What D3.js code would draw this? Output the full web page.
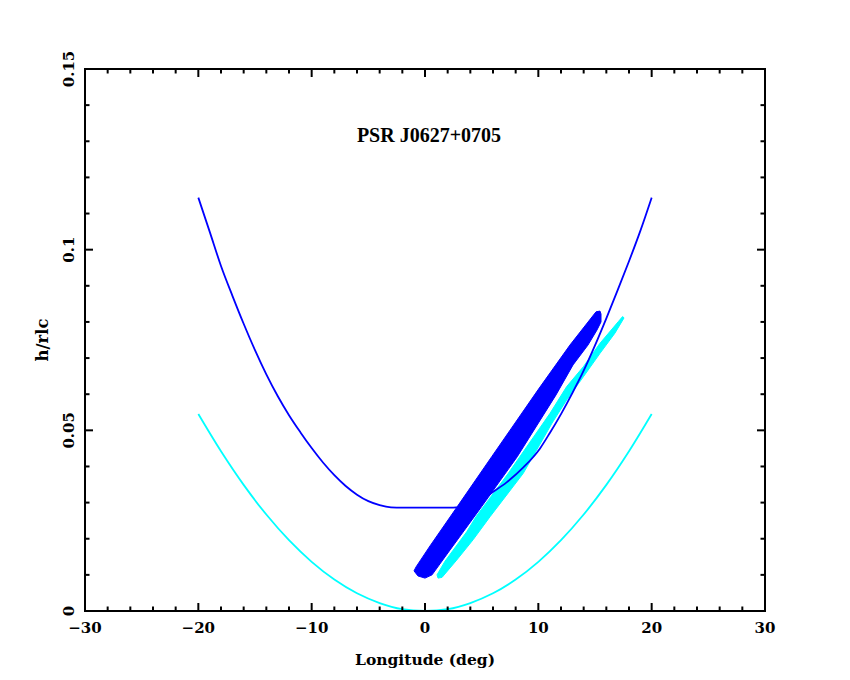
<!DOCTYPE html>
<html>
<head>
<meta charset="utf-8">
<script src="https://cdn.jsdelivr.net/npm/d3@7/dist/d3.min.js"></script>
<style>
  html, body { margin: 0; padding: 0; background: #ffffff; }
  svg { display: block; }
  text { font-family: "DejaVu Serif", serif; font-weight: bold; fill: #000; }
</style>
</head>
<body>
<svg id="chart" width="850" height="680"></svg>
<script>
// ---------------- data ----------------
const title = "PSR J0627+0705";
const xLabel = "Longitude (deg)";
const yLabel = "h/rlc";

const xDomain = [-30, 30];
const yDomain = [0, 0.15];
const xMajorTicks = [-30, -20, -10, 0, 10, 20, 30];
const xTickLabels = ["\u221230", "\u221220", "\u221210", "0", "10", "20", "30"];
const yMajorTicks = [0, 0.05, 0.1, 0.15];
const yTickLabels = ["0", "0.05", "0.1", "0.15"];
const xMinorStep = 2;
const yMinorStep = 0.01;

// cyan curve (lower emission height curve)
const cyanCurveX = [-20, -18, -16, -14, -12, -10, -8, -6, -4, -2, 0, 2, 4, 6, 8, 10, 12, 14, 16, 18, 20];
const cyanCurveY = [0.0545, 0.0442, 0.0349, 0.0267, 0.0196, 0.0136, 0.0087, 0.0049, 0.0022, 0.0005, 0.0,
                    0.0005, 0.0022, 0.0049, 0.0087, 0.0136, 0.0196, 0.0267, 0.0349, 0.0442, 0.0545];

// blue curve (upper curve with flat floor)
const blueCurveX = [-20, -19, -18, -17, -16, -15, -14, -13, -12, -11, -10, -9, -8, -7, -6, -5, -4, -3, -2,
                    0, 2.5, 4, 5.15, 5.75, 7.2, 8.7, 10.15, 11, 12, 13, 14, 15, 16, 17, 18, 19, 20];
const blueCurveY = [0.1144, 0.1050, 0.0955, 0.0873, 0.0795, 0.0722, 0.0655, 0.0595, 0.0542, 0.0495, 0.0451,
                    0.0411, 0.0376, 0.0346, 0.0322, 0.0304, 0.0293, 0.0287, 0.0286,
                    0.0286, 0.0286, 0.0294, 0.0310, 0.0324, 0.0356, 0.0398, 0.0450, 0.0492, 0.0545,
                    0.0603, 0.0665, 0.0735, 0.0810, 0.0888, 0.0968, 0.1052, 0.1144];

// blue filled region (outline, data units)
const blueBandX = [-0.79, 0.44, 2.85, 5.885, 9.97, 12.79, 15.09, 15.44, 15.53, 15.53, 15.18, 14.38, 13.06,
                   11.56, 8.14, 5.00, 2.21, 0.62, 0.0, -0.62, -0.97];
const blueBandY = [0.0122, 0.0180, 0.0289, 0.0427, 0.0612, 0.0736, 0.0828, 0.0830, 0.0822, 0.0800, 0.0778,
                   0.0736, 0.0681, 0.0598, 0.0427, 0.0289, 0.0169, 0.0100, 0.0091, 0.0097, 0.0111];

// cyan filled region (outline, data units)
const cyanBandX = [1.06, 1.77, 3.68, 4.50, 7.35, 11.03, 12.50, 13.97, 15.44, 17.06, 17.44,
                   17.56, 16.76, 15.44, 13.97, 12.50, 11.21, 8.67, 5.74, 4.24, 2.80, 1.50, 1.15];
const cyanBandY = [0.0100, 0.0138, 0.0219, 0.0261, 0.0381, 0.0547, 0.0621, 0.0676, 0.0741, 0.0801, 0.0815,
                   0.0811, 0.0769, 0.0713, 0.0648, 0.0584, 0.0520, 0.0381, 0.0261, 0.0197, 0.0141, 0.0093, 0.0091];

// ---------------- layout ----------------
const W = 850, H = 680;
const plot = { left: 85, right: 765, top: 69, bottom: 611 };
const colBlue = "#0000ff", colCyan = "#00ffff";

const svg = d3.select("#chart");
const x = d3.scaleLinear().domain(xDomain).range([plot.left, plot.right]);
const y = d3.scaleLinear().domain(yDomain).range([plot.bottom, plot.top]);

const zip = (xs, ys) => xs.map((v, i) => [v, ys[i]]);
const line = d3.line().x(d => x(d[0])).y(d => y(d[1]));
const closed = d3.line().x(d => x(d[0])).y(d => y(d[1])).curve(d3.curveLinearClosed);

const g = svg.append("g");
g.append("path").datum(zip(cyanBandX, cyanBandY))
  .attr("d", closed).attr("fill", colCyan).attr("stroke", colCyan).attr("stroke-width", 1);
g.append("path").datum(zip(blueBandX, blueBandY))
  .attr("d", closed).attr("fill", colBlue).attr("stroke", colBlue).attr("stroke-width", 1);
g.append("path").datum(zip(cyanCurveX, cyanCurveY))
  .attr("d", line.curve(d3.curveCatmullRom)).attr("fill", "none").attr("stroke", colCyan).attr("stroke-width", 1.8);
g.append("path").datum(zip(blueCurveX, blueCurveY))
  .attr("d", line.curve(d3.curveMonotoneX)).attr("fill", "none").attr("stroke", colBlue).attr("stroke-width", 1.8);

// ---------------- frame & ticks ----------------
const axes = svg.append("g").attr("stroke", "#000").attr("stroke-width", 2);
axes.append("rect")
  .attr("x", x(xDomain[0])).attr("y", y(yDomain[1]))
  .attr("width", x(xDomain[1]) - x(xDomain[0])).attr("height", y(yDomain[0]) - y(yDomain[1]))
  .attr("fill", "none");

const majLen = 8, minLen = 4.5;
const xMinor = d3.range(xDomain[0], xDomain[1] + 1e-9, xMinorStep).filter(v => !xMajorTicks.includes(v));
const yMinor = d3.range(0, 16).map(i => +(i * yMinorStep).toFixed(2))
  .filter(v => !yMajorTicks.some(t => Math.abs(t - v) < 1e-9));

function xTicks(vals, len) {
  axes.selectAll(null).data(vals).enter().append("line")
    .attr("x1", d => x(d)).attr("x2", d => x(d))
    .attr("y1", y(yDomain[0])).attr("y2", y(yDomain[0]) - len);
  axes.selectAll(null).data(vals).enter().append("line")
    .attr("x1", d => x(d)).attr("x2", d => x(d))
    .attr("y1", y(yDomain[1])).attr("y2", y(yDomain[1]) + len);
}
function yTicks(vals, len) {
  axes.selectAll(null).data(vals).enter().append("line")
    .attr("y1", d => y(d)).attr("y2", d => y(d))
    .attr("x1", x(xDomain[0])).attr("x2", x(xDomain[0]) + len);
  axes.selectAll(null).data(vals).enter().append("line")
    .attr("y1", d => y(d)).attr("y2", d => y(d))
    .attr("x1", x(xDomain[1])).attr("x2", x(xDomain[1]) - len);
}
xTicks(xMajorTicks, majLen); xTicks(xMinor, minLen);
yTicks(yMajorTicks, majLen); yTicks(yMinor, minLen);

// tick labels
svg.append("g").selectAll("text").data(xMajorTicks).enter().append("text")
  .attr("x", d => x(d)).attr("y", plot.bottom + 22)
  .attr("text-anchor", "middle").attr("font-size", 15)
  .text((d, i) => xTickLabels[i]);

svg.append("g").selectAll("text").data(yMajorTicks).enter().append("text")
  .attr("transform", d => `translate(${plot.left - 11},${y(d)}) rotate(-90)`)
  .attr("text-anchor", "middle").attr("font-size", 15)
  .text((d, i) => yTickLabels[i]);

// axis labels
svg.append("text").attr("x", (plot.left + plot.right) / 2).attr("y", 665)
  .attr("text-anchor", "middle").attr("font-size", 15.5).text(xLabel);
svg.append("text").attr("transform", `translate(48,${(plot.top + plot.bottom) / 2}) rotate(-90)`)
  .attr("text-anchor", "middle").attr("font-size", 16.5).text(yLabel);

// title
svg.append("text").attr("x", 429).attr("y", 142)
  .attr("text-anchor", "middle")
  .style("font-family", "'Liberation Serif', serif")
  .attr("font-size", 20).text(title);
</script>
</body>
</html>
